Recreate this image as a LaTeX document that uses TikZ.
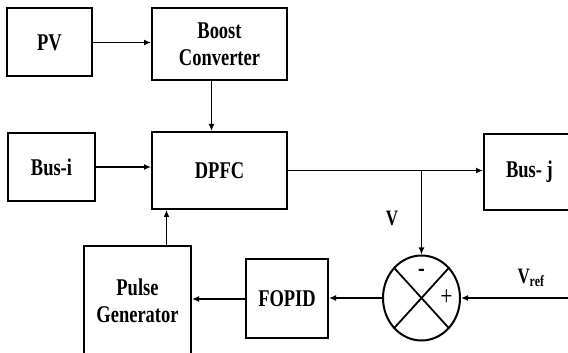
\documentclass[tikz,border=0pt]{standalone}
\usepackage{fontspec}
\newfontfamily\blkfont{Liberation Serif}[FakeStretch=0.77]
\usepackage{tikz}
\usetikzlibrary{arrows.meta,shapes.geometric}

\begin{document}
\begin{tikzpicture}[x=1pt,y=1pt,
  blk/.style={draw,line width=2pt,align=center,inner sep=0pt,
    font=\blkfont\bfseries\fontsize{24}{27}\selectfont},
  lnk/.style={line width=1.8pt},
  arr/.style={lnk,-{Latex[length=7pt,width=6pt]}}]
\useasboundingbox (0,0) rectangle (568,353);

% upper row
\node[blk,minimum width=85,minimum height=68] (pv) at (49.5,310.5) {PV};
\node[blk,minimum width=135,minimum height=72] (boost) at (219.5,309) {Boost\\Converter};
\node[blk,minimum width=87,minimum height=68] (busi) at (51.5,186) {Bus-i};
\node[blk,minimum width=135,minimum height=77] (dpfc) at (219.5,182.5) {DPFC};
\node[blk,minimum width=91,minimum height=76] (busj) at (529.5,181) {Bus- j};

% lower row (feedback)
\node[blk,minimum width=107,minimum height=110] (pulse) at (137.5,52) {Pulse\\Generator};
\node[blk,minimum width=82,minimum height=79] (fopid) at (287,54) {FOPID};
\node[draw,ellipse,line width=2pt,minimum width=77,minimum height=85,inner sep=0pt] (sum) at (421.5,55) {};
\draw[lnk] (sum.north west) -- (sum.south east);
\draw[lnk] (sum.north east) -- (sum.south west);
\node[font=\blkfont\bfseries\fontsize{26}{28}\selectfont] (minus) at ([yshift=25]sum.center) {-};
\node[font=\blkfont\fontsize{28}{30}\selectfont] (plus) at ([xshift=25]sum.center) {+};

% labels
\node[font=\blkfont\bfseries\fontsize{22}{24}\selectfont] (vlab) at (392,135) {V};
\node[font=\blkfont\bfseries\fontsize{22}{24}\selectfont] (vref) at (531,75) {V\textsubscript{ref}};

% connectors
\coordinate (tap) at (sum.north |- dpfc.east);
\coordinate (vin) at (570,55);
\draw[arr] (pv.east) -- (pv.east -| boost.west);
\draw[arr] ([xshift=-8]boost.south) -- ([xshift=-8]dpfc.north);
\draw[arr] (busi.east) -- (busi.east -| dpfc.west);
\draw[arr] (dpfc.east) -- (dpfc.east -| busj.west);
\draw[arr] (tap) -- (sum.north);
\draw[arr] (vin) -- (sum.east);
\draw[arr] (sum.west) -- (sum.west -| fopid.east);
\draw[arr] (fopid.west) -- (fopid.west -| pulse.east);
\draw[arr] ([xshift=29]pulse.north) -- ([xshift=29]pulse.north |- dpfc.south);
\end{tikzpicture}
\end{document}
